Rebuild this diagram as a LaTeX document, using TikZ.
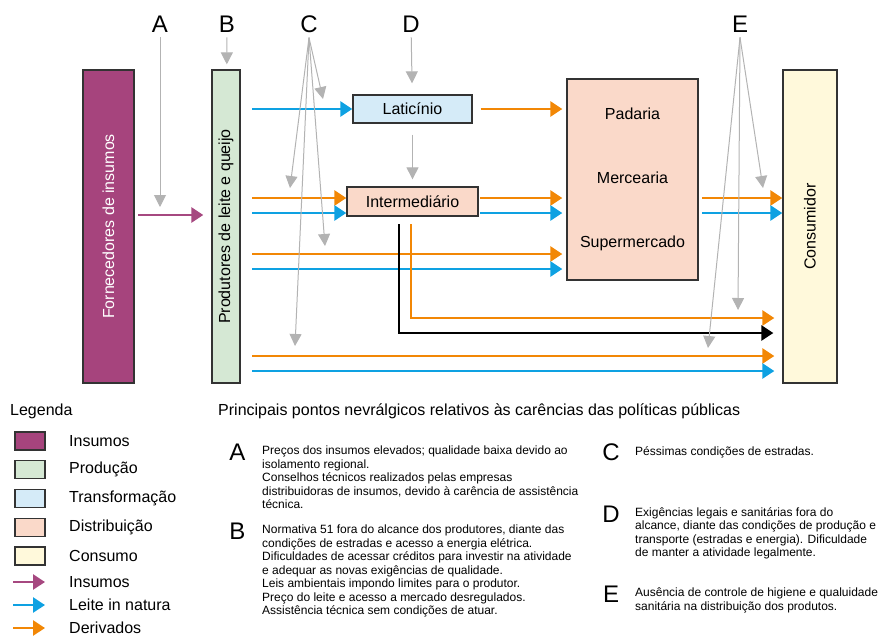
\documentclass[tikz,border=0pt]{standalone}
\usepackage{fontspec}
\setmainfont{Liberation Sans}
\usetikzlibrary{arrows.meta}
\definecolor{insumo}{HTML}{A6447D}
\definecolor{producao}{HTML}{D5E8D4}
\definecolor{transf}{HTML}{D5EBF8}
\definecolor{distrib}{HTML}{FAD9C9}
\definecolor{consumo}{HTML}{FFF9DB}
\definecolor{roxo}{HTML}{A64880}
\definecolor{azul}{HTML}{0EA1E2}
\definecolor{laranja}{HTML}{F28705}
\definecolor{cinza}{HTML}{B3B3B3}
\tikzset{
  box/.style={draw=black!80, line width=1.3pt, inner sep=0pt},
  legbox/.style={box, minimum width=30pt, minimum height=18pt},
  fluxo/.style={line width=2.7pt, -{Triangle[length=12pt,width=15pt]}},
  insarr/.style={fluxo, draw=roxo},
  leite/.style={fluxo, draw=azul},
  deriv/.style={fluxo, draw=laranja},
  nevr/.style={draw=cinza, line width=1pt, -{Triangle[length=12pt,width=12pt]}},
  letra/.style={font=\fontsize{24}{24}\selectfont, inner sep=5pt},
  letrab/.style={font=\fontsize{24}{24}\selectfont, inner sep=0pt},
  corpo/.style={font=\fontsize{12}{13.5}\selectfont, align=left, anchor=north west, inner sep=0pt},
  legtxt/.style={anchor=west, inner sep=0pt}
}
\begin{document}
\begin{tikzpicture}[x=1pt, y=-1pt, font=\fontsize{16}{19}\selectfont]
\useasboundingbox (0,0) rectangle (878,637);
% elos da cadeia
\node[box, fill=insumo, minimum width=51pt, minimum height=313pt] (forn) at (108.5,226.5) {};
\node[rotate=90, text=white] (forntxt) at (forn) {Fornecedores de insumos};
\node[box, fill=producao, minimum width=28pt, minimum height=313pt] (prod) at (226,226.5) {};
\node[rotate=90] (prodtxt) at (prod) {Produtores de leite e queijo};
\node[box, fill=transf, minimum width=119pt, minimum height=28pt] (lat) at (412.5,109) {Latic\'inio};
\node[box, fill=distrib, minimum width=131pt, minimum height=29pt] (inter) at (412.5,201.5) {Intermedi\'ario};
\node[box, fill=distrib, minimum width=131pt, minimum height=201pt, align=center] (dist) at (632.5,179.5)
  {Padaria\\[45pt]Mercearia\\[45pt]Supermercado};
\node[box, fill=consumo, minimum width=54pt, minimum height=313pt] (cons) at (810,226.5) {};
\node[rotate=90] (constxt) at (cons) {Consumidor};

% pontos de partida dos fluxos
\coordinate (i1) at (138,215);
\coordinate (s1) at (252,109);
\coordinate (s2) at (252,198);
\coordinate (s3) at (252,213);
\coordinate (s4) at (252,254);
\coordinate (s5) at (252,269);
\coordinate (s6) at (252,356);
\coordinate (s7) at (252,371);
\coordinate (m2) at (480,198);
\coordinate (m3) at (480,213);
\coordinate (r2) at (702,198);
\coordinate (r3) at (702,213);
\coordinate (q1) at (411,224);
\coordinate (q2) at (411,318);
\coordinate (k1) at (399,224);
\coordinate (k2) at (399,333);

\draw[insarr, shorten >=8pt] (i1) -- (i1 -| prod.west);
\draw[leite] (s1) -- (s1 -| lat.west);
\draw[deriv] (s2) -- (s2 -| inter.west);
\draw[leite] (s3) -- (s3 -| inter.west);
\draw[deriv, shorten >=4pt] (s4) -- (s4 -| dist.west);
\draw[leite, shorten >=4pt] (s5) -- (s5 -| dist.west);
\draw[deriv, shorten >=8pt] (s6) -- (s6 -| cons.west);
\draw[leite, shorten >=8pt] (s7) -- (s7 -| cons.west);
\draw[deriv, shorten <=8pt, shorten >=4pt] (lat.east) -- (lat.east -| dist.west);
\draw[deriv, shorten >=4pt] (m2) -- (m2 -| dist.west);
\draw[leite, shorten >=4pt] (m3) -- (m3 -| dist.west);
\draw[deriv] (r2) -- (r2 -| cons.west);
\draw[leite] (r3) -- (r3 -| cons.west);
\draw[deriv, shorten >=8pt] (q1) -- (q2) -- (q2 -| cons.west);
\draw[fluxo, shorten >=9pt] (k1) -- (k2) -- (k2 -| cons.west);

% pontos nevralgicos
\node[letra] (A) at (160,24) {A};
\node[letra] (B) at (227,24) {B};
\node[letra] (C) at (309,24) {C};
\node[letra] (D) at (411,24) {D};
\node[letra] (E) at (740,24) {E};
\coordinate (a1) at (160,207);
\coordinate (c1) at (323,99);
\coordinate (c2) at (290,188);
\coordinate (c3) at (325,246);
\coordinate (c4) at (295,346);
\coordinate (e1) at (763,188);
\coordinate (e2) at (738,310);
\coordinate (e3) at (708,348);
\draw[nevr] (A) -- (a1);
\draw[nevr, shorten >=5pt] (B) -- (prod);
\draw[nevr] (C.south) -- (c1);
\draw[nevr] (C.south) -- (c2);
\draw[nevr] (C.south) -- (c3);
\draw[nevr] (C.south) -- (c4);
\draw[nevr, shorten >=11pt] (D) -- (lat);
\draw[nevr, shorten <=11pt, shorten >=7pt] (lat) -- (inter);
\draw[nevr] (E.south) -- (e1);
\draw[nevr] (E.south) -- (e2);
\draw[nevr] (E.south) -- (e3);

% legenda
\node[legtxt] (leg) at (10,411) {Legenda};
\foreach \cor/\txt [count=\i] in {insumo/Insumos, producao/Produ\c{c}\~ao, transf/Transforma\c{c}\~ao,
  distrib/Distribui\c{c}\~ao, consumo/Consumo}{
  \node[legbox, fill=\cor] (lb\i) at (30,{412.25+28.75*\i}) {};
  \node[legtxt] (lt\i) at (69,{412.25+28.75*\i}) {\txt};
}
\foreach \sty/\txt [count=\i] in {insarr/Insumos, leite/Leite in natura, deriv/Derivados}{
  \coordinate (la\i) at (13,{559+23*\i});
  \coordinate (lz\i) at (45,{559+23*\i});
  \draw[\sty] (la\i) -- (lz\i);
  \node[legtxt] (lf\i) at (69,{559+23*\i}) {\txt};
}

% textos
\node[legtxt] (tit) at (218,411) {Principais pontos nevr\'algicos relativos \`as car\^encias das pol\'iticas p\'ublicas};
\node[letrab] (la) at (237.5,452) {A};
\node[corpo] (txa) at (262,446) {Pre\c{c}os dos insumos elevados; qualidade baixa devido ao\\isolamento regional.\\Conselhos t\'ecnicos realizados pelas empresas\\distribuidoras de insumos, devido \`a car\^encia de assist\^encia\\t\'ecnica.};
\node[letrab] (lb) at (237.5,531) {B};
\node[corpo] (txb) at (262,525) {Normativa 51 fora do alcance dos produtores, diante das\\condi\c{c}\~oes de estradas e acesso a energia el\'etrica.\\Dificuldades de acessar cr\'editos para investir na atividade\\e adequar as novas exig\^encias de qualidade.\\Leis ambientais impondo limites para o produtor.\\Pre\c{c}o do leite e acesso a mercado desregulados.\\Assist\^encia t\'ecnica sem condi\c{c}\~oes de atuar.};
\node[letrab] (lc) at (611,452) {C};
\node[corpo] (txc) at (635,446) {P\'essimas condi\c{c}\~oes de estradas.};
\node[letrab] (ld) at (611,514.5) {D};
\node[corpo] (txd) at (635,507) {Exig\^encias legais e sanit\'arias fora do\\alcance, diante das condi\c{c}\~oes de produ\c{c}\~ao e\\transporte (estradas e energia). Dificuldade\\de manter a atividade legalmente.};
\node[letrab] (le) at (611,594) {E};
\node[corpo] (txe) at (635,588) {Aus\^encia de controle de higiene e qualuidade\\sanit\'aria na distribui\c{c}\~ao dos produtos.};
\end{tikzpicture}
\end{document}
